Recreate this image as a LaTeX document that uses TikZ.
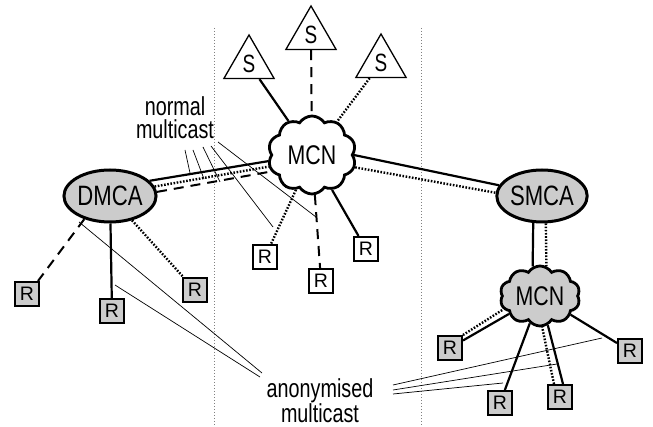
\documentclass[tikz,border=0pt]{standalone}
\usepackage{fontspec}
\setmainfont{Liberation Sans}
\newfontfamily\nodefont[FakeStretch=0.79]{Liberation Sans}
\newfontfamily\labelfont[FakeStretch=0.76]{Liberation Sans}
\usetikzlibrary{shapes.geometric,shapes.symbols}

\begin{document}
\begin{tikzpicture}[x=1pt,y=-1pt,
  hub/.style={ellipse, draw, line width=3, fill=black!20, minimum width=90,
    minimum height=52, inner sep=0pt, font=\nodefont\fontsize{28}{28}\selectfont},
  netcloud/.style={cloud, cloud puffs=10, cloud puff arc=115, cloud ignores aspect,
    draw, line width=2.8, fill=white, minimum width=88, minimum height=78,
    inner sep=0pt, font=\nodefont\fontsize{27}{27}\selectfont},
  src/.style={regular polygon, regular polygon sides=3, draw, line width=1.3,
    fill=white, minimum size=58, inner sep=0pt,
    font=\labelfont\fontsize{25}{25}\selectfont},
  rcv/.style={rectangle, draw, line width=2, fill=white, minimum size=24,
    inner sep=0pt, font=\fontsize{19.5}{19.5}\selectfont},
  shaded/.style={fill=black!20},
  link/.style={line width=2.2},
  dotlink/.style={line width=2.4, dash pattern=on 1.6pt off 1.6pt},
  dashlink/.style={line width=2, dash pattern=on 10pt off 7pt},
  callout/.style={line width=0.7},
  guide/.style={black!50, line width=0.8, dash pattern=on 0.8pt off 2.2pt},
  annot/.style={align=center, font=\labelfont\fontsize{26}{23}\selectfont}
]
\useasboundingbox (0,0) rectangle (653,427);

% zone separators
\coordinate (g1t) at (214,28);  \coordinate (g1b) at (214,427);
\coordinate (g2t) at (421,28);  \coordinate (g2b) at (421,427);
\draw[guide] (g1t) -- (g1b);
\draw[guide] (g2t) -- (g2b);

% network elements
\node[netcloud] (mcnA) at (312,155) {MCN};
\node[netcloud, shaded, minimum width=80, minimum height=60] (mcnB) at (540,296) {MCN};
\node[hub] (dmca) at (110,196) {DMCA};
\node[hub] (smca) at (542,196) {SMCA};

\node[src] (sL) at (249,64) {S};
\node[src] (sM) at (311,35) {S};
\node[src] (sR) at (381,63) {S};

\node[rcv, shaded] (rL1) at (27,294) {R};
\node[rcv, shaded] (rL2) at (112,311) {R};
\node[rcv, shaded] (rL3) at (195,290) {R};
\node[rcv] (rM1) at (265,257) {R};
\node[rcv] (rM2) at (321,281) {R};
\node[rcv] (rM3) at (366,249) {R};
\node[rcv, shaded] (rB1) at (450,348) {R};
\node[rcv, shaded] (rB2) at (500,403) {R};
\node[rcv, shaded] (rB3) at (560,397) {R};
\node[rcv, shaded] (rB4) at (630,351) {R};

% sources to the core network
\draw[link] (sL) -- (mcnA);
\draw[dashlink] (sM) -- (mcnA);
\draw[dotlink] (sR) -- (mcnA);

% DMCA to core
\draw[link] (dmca.21) -- (mcnA.188);
\draw[dotlink] (dmca.12) -- (mcnA.195);
\draw[dashlink] (dmca.5) -- (mcnA.202);

% core to SMCA
\draw[link] (mcnA.0) -- (smca.166);
\draw[dotlink] (mcnA.344) -- (smca.176);

% SMCA to local network
\draw[link] (smca.252) -- (mcnB.104);
\draw[dotlink] (smca.278) -- (mcnB.78);

% receivers
\draw[dashlink] (dmca.222) -- ([xshift=-2pt]rL1.north east);
\draw[link] (dmca) -- (rL2);
\draw[dotlink] (dmca) -- (rL3);
\draw[dotlink] (mcnA) -- (rM1);
\draw[dashlink] (mcnA) -- (rM2);
\draw[link] (mcnA) -- (rM3);
\draw[link] (rB1) -- (mcnB);
\draw[dotlink] (rB1.north east) -- (mcnB.200);
\draw[link] (rB2) -- (mcnB);
\draw[link] ([xshift=3pt]rB3.north) -- (mcnB.285);
\draw[dotlink] ([xshift=-6pt]rB3.north) -- (mcnB.274);
\draw[link] (rB4) -- (mcnB);

% annotations
\node[annot] (normal) at (175,118) {normal\\multicast};
\node[annot] (anon) at (320,401) {anonymised\\multicast};

\coordinate (n1) at (185,150); \coordinate (t1) at (190,173);
\coordinate (n2) at (193,150); \coordinate (t2) at (204,179);
\coordinate (n3) at (203,147); \coordinate (t3) at (220,182);
\coordinate (n4) at (211,146); \coordinate (t4) at (273,227);
\coordinate (n5) at (218,142); \coordinate (t5) at (316,217);
\foreach \i in {1,...,5} \draw[callout] (n\i) -- (t\i);

\coordinate (a1) at (262,373); \coordinate (u1) at (79,222);
\coordinate (a2) at (260,377); \coordinate (u2) at (115,285);
\coordinate (a3) at (393,385); \coordinate (u3) at (602,338);
\coordinate (a4) at (393,390); \coordinate (u4) at (557,364);
\coordinate (a5) at (393,394); \coordinate (u5) at (503,383);
\foreach \i in {1,...,5} \draw[callout] (a\i) -- (u\i);
\end{tikzpicture}
\end{document}
